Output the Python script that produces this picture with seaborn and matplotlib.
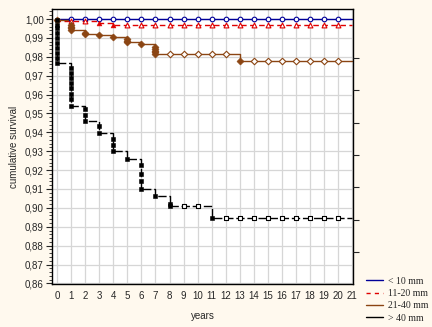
import numpy as np
import pandas as pd
import matplotlib
matplotlib.use("Agg")
import matplotlib.pyplot as plt
import seaborn as sns
from matplotlib.ticker import MultipleLocator, FuncFormatter, FixedLocator, NullFormatter
from matplotlib.lines import Line2D

# ---------------- data ----------------
groups = ["< 10 mm", "11-20 mm", "21-40 mm", "> 40 mm"]

# step curves (time, survival after step)
lt10_time = [0, 21]
lt10_surv = [1.0, 1.0]
lt10_cens = [1, 2, 3, 4, 5, 6, 7, 8, 9, 10, 11, 12, 13, 14, 15, 16, 17, 18, 19, 20]
lt10_ev_t = []
lt10_ev_s = []

g1120_time = [0, 0, 3, 4, 21]
g1120_surv = [1.0, 0.9988, 0.9977, 0.9966, 0.9966]
g1120_cens = [1, 2, 5, 6, 7, 8, 9, 10, 11, 12, 13, 14, 15, 16, 17, 18, 19, 20]
g1120_ev_t = [3, 4]
g1120_ev_s = [0.9977, 0.9966]

g2140_time = [0, 0, 1, 2, 3, 4, 5, 6, 7, 13, 21]
g2140_surv = [1.0, 0.9995, 0.9943, 0.9920, 0.9915, 0.9903, 0.9876, 0.9870, 0.9814, 0.9779, 0.9779]
g2140_cens = [8, 9, 10, 11, 12, 14, 15, 16, 17, 18, 19, 20]
g2140_ev_t = [0, 1, 1, 1, 1, 2, 2, 3, 4, 5, 5, 5, 6, 7, 7, 7, 7, 7, 13]
g2140_ev_s = [0.9995, 0.9968, 0.9960, 0.9951, 0.9943, 0.9928, 0.9920, 0.9915, 0.9903,
              0.9892, 0.9884, 0.9876, 0.9870, 0.9853, 0.9843, 0.9833, 0.9823, 0.9814, 0.9779]

gt40_time = [0, 0, 1, 2, 3, 4, 5, 6, 7, 8, 11, 21]
gt40_surv = [1.0, 0.9765, 0.9542, 0.9461, 0.9394, 0.9300, 0.9258, 0.9102, 0.9063, 0.9010, 0.8947, 0.8947]
gt40_cens = [9, 10, 12, 13, 14, 15, 16, 17, 18, 19, 20]
gt40_ev_t = [0, 0, 0, 0, 0, 0, 0, 0, 0, 0,
             1, 1, 1, 1, 1, 1, 1, 1,
             2, 2, 2, 3, 3, 4, 4, 4, 5, 6, 6, 6, 6, 7, 8, 8, 11]
gt40_ev_s = [0.9995, 0.9968, 0.9950, 0.9924, 0.9898, 0.9871, 0.9845, 0.9818, 0.9792, 0.9765,
             0.9739, 0.9713, 0.9687, 0.9660, 0.9634, 0.9604, 0.9576, 0.9542,
             0.9521, 0.9491, 0.9461, 0.9431, 0.9394, 0.9367, 0.9332, 0.9300, 0.9258,
             0.9226, 0.9182, 0.9143, 0.9102, 0.9063, 0.9023, 0.9010, 0.8947]

y_ticks = [0.86, 0.87, 0.88, 0.89, 0.90, 0.91, 0.92, 0.93, 0.94, 0.95, 0.96, 0.97, 0.98, 0.99, 1.00]
x_ticks = list(range(0, 22))

# ---------------- style ----------------
bg = "#FFF9EE"
styles = {
    "< 10 mm": dict(color="#000099", marker="o", dashes=None, ev_s=10, ce_s=11),
    "11-20 mm": dict(color="#E00000", marker="^", dashes=(4, 2.5), ev_s=12, ce_s=12),
    "21-40 mm": dict(color="#8B4513", marker="D", dashes=None, ev_s=13, ce_s=11),
    "> 40 mm": dict(color="#000000", marker="s", dashes=(6, 2), ev_s=11, ce_s=11),
}
curves = {
    "< 10 mm": (lt10_time, lt10_surv, lt10_cens, lt10_ev_t, lt10_ev_s),
    "11-20 mm": (g1120_time, g1120_surv, g1120_cens, g1120_ev_t, g1120_ev_s),
    "21-40 mm": (g2140_time, g2140_surv, g2140_cens, g2140_ev_t, g2140_ev_s),
    "> 40 mm": (gt40_time, gt40_surv, gt40_cens, gt40_ev_t, gt40_ev_s),
}

sns.set_style("white")
plt.rcParams["font.family"] = ["Liberation Sans", "DejaVu Sans"]

fig = plt.figure(figsize=(4.32, 3.27), dpi=100, facecolor=bg)
ax = fig.add_axes([52 / 432, 1 - 284 / 327, (353 - 52) / 432, (284 - 9) / 327])
ax.set_facecolor("white")

def step_value(times, survs, t):
    idx = np.searchsorted(np.asarray(times), t, side="right") - 1
    return survs[idx]

for g in groups:
    times, survs, cens, ev_t, ev_s = curves[g]
    st = styles[g]
    df = pd.DataFrame({"time": times, "surv": survs})
    sns.lineplot(data=df, x="time", y="surv", ax=ax, estimator=None, sort=False,
                 drawstyle="steps-post", legend=False, color=st["color"], linewidth=1.0)
    if st["dashes"] is not None:
        ax.lines[-1].set_dashes(st["dashes"])
    cdf = pd.DataFrame({"time": cens, "surv": [step_value(times, survs, c) for c in cens]})
    ax.scatter(cdf["time"], cdf["surv"], marker=st["marker"], s=st["ce_s"], facecolors="white",
               edgecolors=st["color"], linewidths=0.8, zorder=4)
    if len(ev_t):
        edf = pd.DataFrame({"time": ev_t, "surv": ev_s})
        sns.scatterplot(data=edf, x="time", y="surv", ax=ax, marker=st["marker"], s=st["ev_s"],
                        color=st["color"], edgecolor=st["color"], linewidth=0.4, zorder=5,
                        legend=False)

ax.set_xlim(-0.36, 21.05)
ax.set_ylim(0.8597, 1.0053)
ax.xaxis.set_major_locator(FixedLocator(x_ticks))
ax.yaxis.set_major_locator(FixedLocator(y_ticks))
ax.yaxis.set_minor_locator(MultipleLocator(0.002))
ax.yaxis.set_major_formatter(FuncFormatter(lambda v, p: f"{v:.2f}".replace(".", ",")))
ax.grid(True, which="major", color="#D6D6D6", linewidth=0.9)
ax.set_axisbelow(True)
ax.tick_params(axis="x", length=0, pad=5, labelsize=7)
ax.tick_params(axis="y", which="major", length=4, width=0.8, direction="out", labelsize=7, pad=2)
ax.tick_params(axis="y", which="minor", length=2, width=0.6, direction="out", left=True)
for s in ax.spines.values():
    s.set_color("black")
    s.set_linewidth(1.0)
ax.set_xlabel("years", fontsize=7, labelpad=7)
ax.set_ylabel("cumulative survival", fontsize=7, labelpad=4)

# right side ticks (no labels)
ax2 = ax.twinx()
ax2.set_ylim(ax.get_ylim())
ax2.yaxis.set_major_locator(FixedLocator([0.9793, 0.9622, 0.9451, 0.9279, 0.9108, 0.8937, 0.8766]))
ax2.yaxis.set_major_formatter(NullFormatter())
ax2.tick_params(axis="y", length=4, width=0.8, direction="out")
for s in ax2.spines.values():
    s.set_visible(False)

handles = []
for g in groups:
    st = styles[g]
    h = Line2D([0], [0], color=st["color"], linewidth=1.0)
    if g == "11-20 mm":
        h.set_dashes((3, 3))
    handles.append(h)
fig.legend(handles, groups, loc="lower left", bbox_to_anchor=(0.826, -0.014),
           frameon=False, handlelength=1.8, handletextpad=0.5, labelspacing=0.35,
           prop={"family": "Liberation Serif", "size": 7})

fig.savefig("out.png", dpi=100, facecolor=bg)
